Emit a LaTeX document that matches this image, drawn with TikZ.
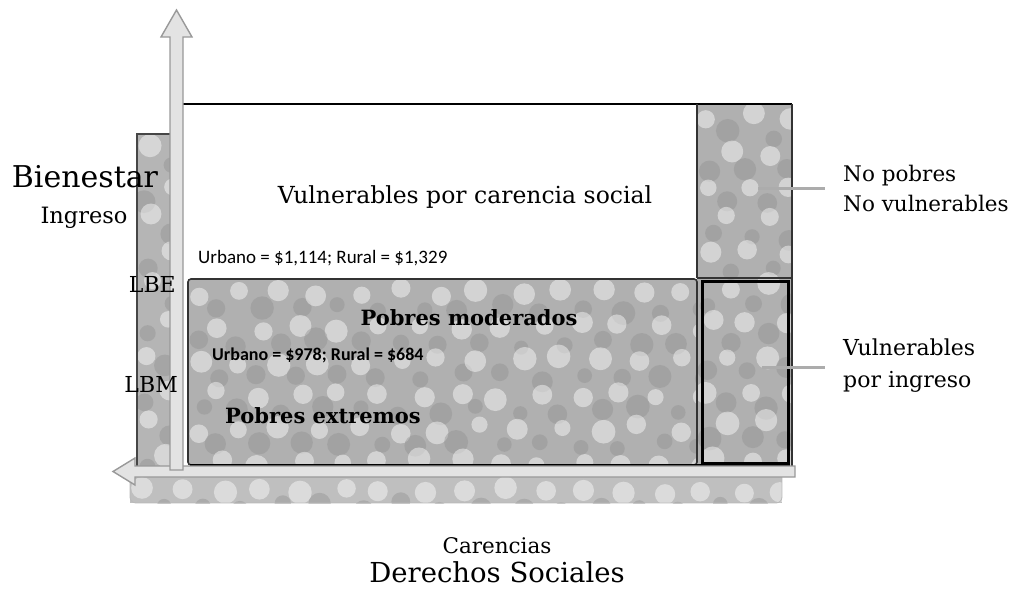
\documentclass[tikz,border=0pt]{standalone}
\usepackage{fontspec}
\setmainfont{DejaVu Serif}
\newfontfamily\calib{Carlito}
\begin{document}
\begin{tikzpicture}[x=1pt,y=-1pt,
  lbl/.style={inner sep=0pt, text=black},
  axisarrow/.style={fill=gray!22, draw=gray!80, line width=1.4pt},
  frame/.style={draw=black!80, line width=1.6pt},
  conn/.style={draw=gray!65, line width=3pt},
  blob/.style={fill=white, opacity=0.45},
  darkblob/.style={fill=gray!85, opacity=0.45}]
\useasboundingbox (0,0) rectangle (1029,598);
\pgfmathsetseed{7}

% ---- textured regions ----
\newcommand{\mottle}[5]{% x0 y0 x1 y1 base-shade
  \begin{scope}
    \clip (#1,#2) rectangle (#3,#4);
    \fill[gray!#5] (#1,#2) rectangle (#3,#4);
    \foreach \i in {0,...,16} {
      \foreach \j in {0,...,11} {
        \pgfmathsetmacro\ra{8+4*rnd}
        \pgfmathsetmacro\rb{7+5*rnd}
        \pgfmathsetmacro\dx{5*rand}
        \pgfmathsetmacro\dy{5*rand}
        \fill[blob] ({#1+12+\i*40+mod(\j,2)*20+\dx},{#2+14+\j*34+\dy}) circle (\ra pt);
        \fill[darkblob] ({#1+32+\i*40-mod(\j,2)*20-\dy},{#2+30+\j*34+\dx}) circle (\rb pt);
      }
    }
  \end{scope}}

% left band
\mottle{137}{134}{178}{467}{58}
\draw[draw=gray!55!black, line width=1.2pt] (137,134) rectangle (178,467);

% bottom band (below horizontal axis)
\mottle{130}{476}{782}{503}{50}
\draw[draw=gray!55, line width=0.8pt, rounded corners=6pt] (130,476) -- (130,503) -- (782,503) -- (782,476);

% right column + bottom region
\mottle{697}{104}{792}{467}{62}
\mottle{188}{279}{697}{465}{62}

% ---- white box ----
\fill[white] (183,104) rectangle (697,277);
\draw[black, line width=2.5pt] (182,104) -- (792,104);
\draw[frame] (697,104) -- (697,278);
\draw[frame] (792,104) -- (792,467);

% bottom box
\draw[frame, rounded corners=3pt] (188,279) rectangle (697,465);
\draw[black, line width=2.5pt] (190,465) -- (790,465);
\draw[frame] (697,278) -- (792,278);

% vulnerables por ingreso box
\draw[black, line width=3pt] (702,281) rectangle (788,463);

% ---- axes ----
\draw[axisarrow] (795,466) -- (135,466) -- (135,458) -- (113,471.5) -- (135,485) -- (135,477) -- (795,477) -- cycle;
\draw[axisarrow] (170,470) -- (170,37) -- (161,37) -- (176.5,10) -- (192,37) -- (183,37) -- (183,470) -- cycle;

% ---- texts ----
\node[lbl, anchor=base, font=\fontsize{30}{34}\selectfont] (bien) at (85,187) {Bienestar};
\node[lbl, anchor=base, font=\fontsize{22.5}{27}\selectfont] (ingr) at (84,223) {Ingreso};
\node[lbl, anchor=base east, font=\fontsize{22}{25}\selectfont] (lbe) at (176,292) {LBE};
\node[lbl, anchor=base east, font=\fontsize{22}{25}\selectfont] (lbm) at (178,392) {LBM};

\node[lbl, anchor=base, font=\fontsize{23.5}{28}\selectfont] (vcs) at (465,203) {Vulnerables por carencia social};
\node[lbl, anchor=base west, font=\calib\fontsize{19}{23}\selectfont] (u1) at (198,263) {Urbano = \$1,114; Rural = \$1,329};

\node[lbl, anchor=base, font=\fontsize{21}{25}\selectfont\bfseries] (pm) at (469,325) {Pobres moderados};
\node[lbl, anchor=base west, font=\calib\fontsize{18}{22}\selectfont\bfseries] (u2) at (212,360) {Urbano = \$978; Rural = \$684};
\node[lbl, anchor=base west, font=\fontsize{21}{25}\selectfont\bfseries] (pe) at (225,423) {Pobres extremos};

\node[lbl, anchor=west, align=left, font=\fontsize{21.5}{30}\selectfont] (np) at (843,188) {No pobres\\No vulnerables};
\node[lbl, anchor=west, align=left, font=\fontsize{22}{32}\selectfont] (vi) at (843,366) {Vulnerables\\por ingreso};

\node[lbl, anchor=base, font=\fontsize{21.5}{26}\selectfont] (car) at (497,553) {Carencias};
\node[lbl, anchor=base, font=\fontsize{27.5}{32}\selectfont] (ds) at (497,582) {Derechos Sociales};

% ---- connectors ----
\coordinate (c1) at (758,188);
\coordinate (c2) at (762,367);
\draw[conn] (c1) -- ([xshift=-18pt]np.west |- c1);
\draw[conn] (c2) -- ([xshift=-18pt]vi.west |- c2);
\end{tikzpicture}
\end{document}
